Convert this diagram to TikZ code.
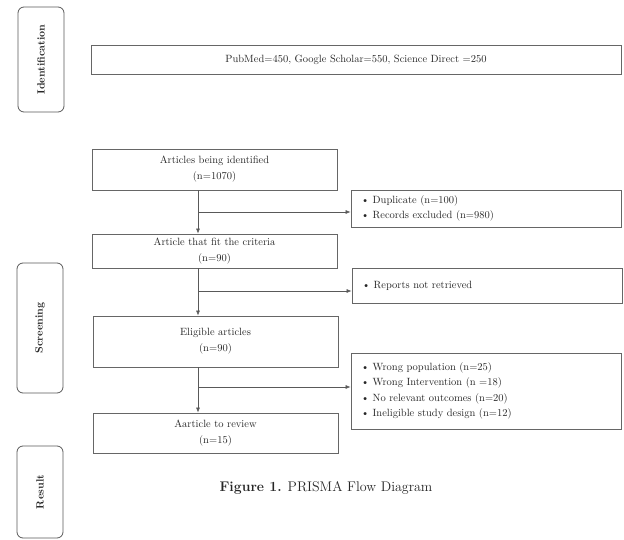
\documentclass[tikz,border=0pt]{standalone}
\usepackage{tikz}
\usetikzlibrary{positioning,calc,arrows.meta}

\begin{document}
\begin{tikzpicture}[x=1pt,y=-1pt,
    stage/.style={draw=black!65, line width=0.8pt, rounded corners=6pt, rotate=90,
        minimum height=46pt, font=\bfseries\fontsize{10.5}{12}\selectfont, text=black!85},
    flowbox/.style={draw=black!60, line width=0.8pt, minimum width=245pt, align=center,
        font=\fontsize{10.5}{16}\selectfont, text=black!85},
    exclbox/.style={draw=black!60, line width=0.8pt, minimum width=270pt, text width=250pt,
        align=left, font=\fontsize{10.5}{15.5}\selectfont, text=black!85},
    flow/.style={draw=black!65, line width=0.6pt, -{Latex[length=5pt,width=4pt]}}]
    \useasboundingbox (0,0) rectangle (624,540);

    % Stages
    \node[stage, minimum width=105pt] (identstage) at (41,59.5) {Identification};
    \node[stage, minimum width=130pt] (screenstage) at (40,328) {Screening};
    \node[stage, minimum width=92pt] (resultstage) at (40,492) {Result};

    % Sources
    \node[flowbox, minimum width=530pt, minimum height=29pt] (sources) at (356,59.5)
        {PubMed=450, Google Scholar=550, Science Direct =250};

    % Main flow
    \node[flowbox, minimum height=41pt] (identified) at (214.5,169.5)
        {Articles being identified\\(n=1070)};
    \node[flowbox, minimum height=34pt] (criteria) at (214.5,251)
        {Article that fit the criteria\\(n=90)};
    \node[flowbox, minimum height=51pt] (eligible) at (215.5,341.5)
        {Eligible articles\\(n=90)};
    \node[flowbox, minimum height=40pt] (review) at (215.5,433)
        {Aarticle to review\\(n=15)};

    % Excluded
    \node[exclbox, minimum height=37pt] (dupl) at (486,208.5)
        {\textbullet\ Duplicate (n=100)\\\textbullet\ Records excluded (n=980)};
    \node[exclbox, minimum height=35pt] (notretr) at (487,285.5)
        {\textbullet\ Reports not retrieved};
    \node[exclbox, minimum height=76pt] (wrong) at (486,391)
        {\textbullet\ Wrong population (n=25)\\\textbullet\ Wrong Intervention (n =18)\\
         \textbullet\ No relevant outcomes (n=20)\\\textbullet\ Ineligible study design (n=12)\\[2pt]};

    % Arrows
    \coordinate (spine) at (198,0);
    \draw[flow] (identified.south -| spine) -- (criteria.north -| spine);
    \draw[flow] (criteria.south -| spine) -- (eligible.north -| spine);
    \draw[flow] (eligible.south -| spine) -- (review.north -| spine);
    \coordinate (b1) at (198,212);
    \coordinate (b2) at (198,291);
    \coordinate (b3) at (198,387);
    \draw[flow] (b1) -- (b1 -| dupl.west);
    \draw[flow] (b2) -- (b2 -| notretr.west);
    \draw[flow] (b3) -- (b3 -| wrong.west);

    % Caption
    \node[font=\fontsize{14}{16}\selectfont, text=black!85] (caption) at (326,488)
        {\textbf{Figure 1.} PRISMA Flow Diagram};
\end{tikzpicture}
\end{document}
